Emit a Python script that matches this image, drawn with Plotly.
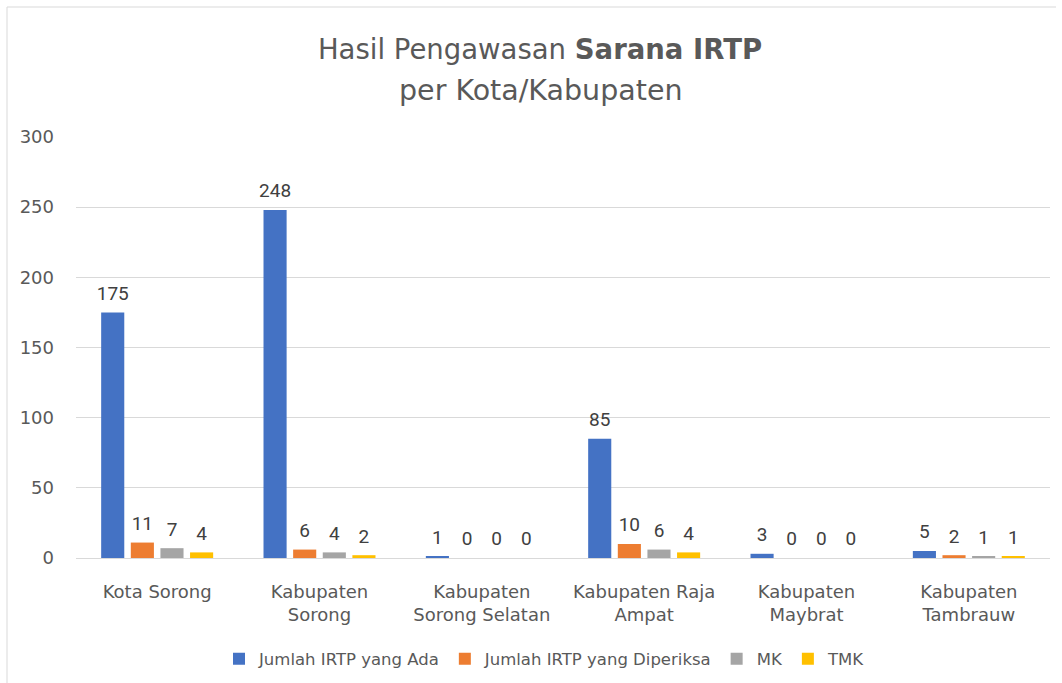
import plotly.graph_objects as go

# Regions (categories) and inspection counts per series
categories = [
    "Kota Sorong",
    "Kabupaten<br>Sorong",
    "Kabupaten<br>Sorong Selatan",
    "Kabupaten Raja<br>Ampat",
    "Kabupaten<br>Maybrat",
    "Kabupaten<br>Tambrauw",
]
jumlah_ada = [175, 248, 1, 85, 3, 5]
jumlah_diperiksa = [11, 6, 0, 10, 0, 2]
mk = [7, 4, 0, 6, 0, 1]
tmk = [4, 2, 0, 4, 0, 1]

series = [
    ("Jumlah IRTP yang Ada", jumlah_ada, "#4472C4"),
    ("Jumlah IRTP yang Diperiksa", jumlah_diperiksa, "#ED7D31"),
    ("MK", mk, "#A5A5A5"),
    ("TMK", tmk, "#FFC000"),
]

FONT = "DejaVu Sans"
GREY = "#595959"

fig = go.Figure()
for i, (name, vals, color) in enumerate(series):
    fig.add_trace(go.Bar(
        name=name,
        x=categories,
        y=vals,
        offsetgroup=str(i),
        marker=dict(color=color, line=dict(width=0)),
        hoverinfo="x+y+name",
    ))
    # value labels sitting above each bar
    fig.add_trace(go.Scatter(
        x=categories,
        y=vals,
        offsetgroup=str(i),
        mode="markers+text",
        marker=dict(size=11, opacity=0),
        text=[str(v) for v in vals],
        textposition="top center",
        textfont=dict(family="Roboto", size=19, color="#404040"),
        showlegend=False,
        hoverinfo="skip",
        cliponaxis=False,
    ))

W, H = 1062, 683
L, R, T, B = 76, 12, 137, 125
pw, ph = W - L - R, H - T - B


def px_x(x):
    return (x - L) / pw


def px_y(y):
    return (H - B - y) / ph


fig.update_layout(
    width=W,
    height=H,
    margin=dict(l=L, r=R, t=T, b=B, autoexpand=False),
    paper_bgcolor="white",
    plot_bgcolor="white",
    barmode="group",
    scattermode="group",
    bargap=0.27,
    bargroupgap=0.22,
    font=dict(family=FONT, color=GREY),
    title=dict(
        text="Hasil Pengawasan <b>Sarana IRTP</b>",
        x=540 / W,
        xanchor="center",
        y=1 - 49 / H,
        yanchor="middle",
        font=dict(family=FONT, size=27.5, color=GREY),
    ),
    xaxis=dict(
        tickfont=dict(family=FONT, size=18, color=GREY),
        showline=True,
        linecolor="#D9D9D9",
        linewidth=1,
        ticks="",
        ticklabelstandoff=17,
        automargin=False,
    ),
    yaxis=dict(
        range=[0, 300],
        dtick=50,
        tickfont=dict(family=FONT, size=18, color=GREY),
        gridcolor="#D9D9D9",
        gridwidth=1,
        zeroline=False,
        ticklabelstandoff=21,
        automargin=False,
    ),
    legend=dict(
        orientation="h",
        x=px_x(545),
        xanchor="center",
        y=px_y(659),
        yanchor="middle",
        font=dict(family=FONT, size=16.5, color=GREY),
        traceorder="normal",
    ),
    showlegend=True,
)

# Second title line
fig.add_annotation(
    text="per Kota/Kabupaten",
    xref="paper", yref="paper",
    x=px_x(540), y=px_y(90),
    xanchor="center", yanchor="middle",
    showarrow=False,
    font=dict(family=FONT, size=28.5, color=GREY),
)

# Chart-area border lines
fig.add_shape(type="line", xref="paper", yref="paper",
              x0=px_x(7), x1=px_x(1056), y0=px_y(7), y1=px_y(7),
              line=dict(color="#D9D9D9", width=1))
fig.add_shape(type="line", xref="paper", yref="paper",
              x0=px_x(7), x1=px_x(7), y0=px_y(7), y1=px_y(683),
              line=dict(color="#D9D9D9", width=1))

fig.write_html("out.html")
